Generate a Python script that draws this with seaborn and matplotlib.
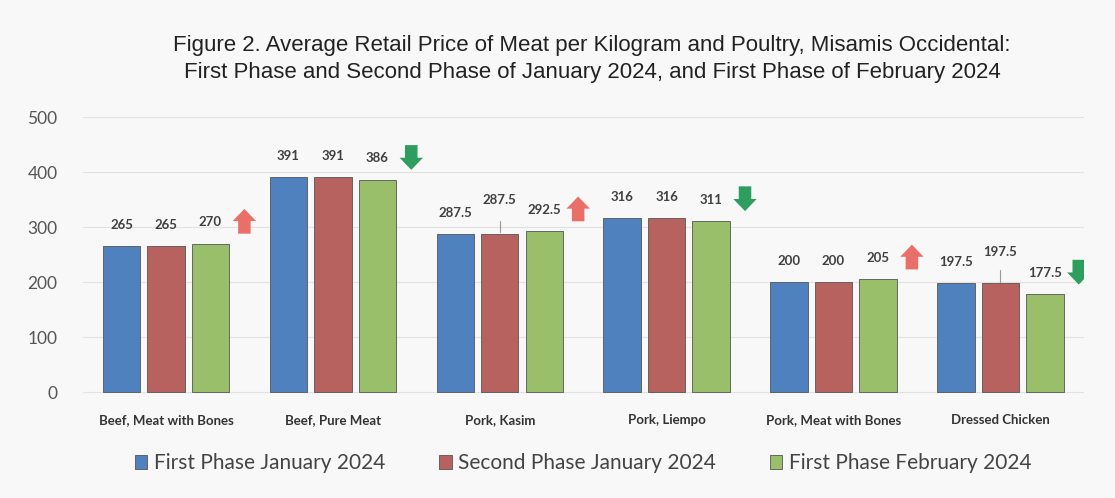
import numpy as np
import pandas as pd
import matplotlib
matplotlib.use('Agg')
import matplotlib.pyplot as plt
import seaborn as sns

# Data
categories = ["Beef, Meat with Bones", "Beef, Pure Meat", "Pork, Kasim",
              "Pork, Liempo", "Pork, Meat with Bones", "Dressed Chicken"]
phases = ["First Phase January 2024", "Second Phase January 2024", "First Phase February 2024"]
jan_first = [265, 391, 287.5, 316, 200, 197.5]
jan_second = [265, 391, 287.5, 316, 200, 197.5]
feb_first = [270, 386, 292.5, 311, 205, 177.5]

df = pd.DataFrame({
    "category": categories * 3,
    "phase": np.repeat(phases, len(categories)),
    "price": jan_first + jan_second + feb_first,
})

colors = ["#3d7fd0", "#c65450", "#9acd5c"]
up_color = "#ea6f68"
down_color = "#2e9e5e"

sns.set_theme(style="white")
plt.rcParams['font.family'] = ['Lato', 'DejaVu Sans']

fig = plt.figure(figsize=(11.15, 4.98), dpi=100)
fig.patch.set_facecolor('#f8f8f8')
ax = fig.add_axes([0.074, 0.185, 0.898, 0.58])
ax.set_facecolor('#f8f8f8')

sns.barplot(data=df, x="category", y="price", hue="phase", palette=colors,
            width=0.8, gap=0.16, ax=ax, edgecolor='#555555', linewidth=0.6,
            legend=True)

ax.set_ylim(-25, 500)
ax.set_yticks(range(0, 501, 100))
ax.yaxis.grid(True, color='#e2e2e2', linewidth=0.8)
ax.set_axisbelow(True)
for s in ax.spines.values():
    s.set_visible(False)
ax.set_xlabel("")
ax.set_ylabel("")
ax.tick_params(axis='y', labelsize=12.5, labelcolor='#555555', length=0, pad=18)
ax.tick_params(axis='x', labelsize=9.5, labelcolor='#333333', length=0, pad=6)
for lab in ax.get_xticklabels():
    lab.set_fontweight('bold')

# value labels (two lifted with a leader line, as in the source)
lifted = {(1, 2): 9, (1, 5): 7}
for h, cont in enumerate(ax.containers):
    for i, bar in enumerate(cont.patches):
        xc = bar.get_x() + bar.get_width() / 2
        val = bar.get_height()
        lift = lifted.get((h, i), 0)
        ax.annotate(f"{val:g}", (xc, val), xytext=(0, 11 + lift), textcoords='offset points',
                    ha='center', va='bottom', fontsize=9.5, fontweight='bold', color='#404040')
        if lift:
            ax.plot([xc, xc], [val + 3, val + 24], color='#999999', lw=0.8)

# change arrows next to the February bar
for i, (prev, cur) in enumerate(zip(jan_second, feb_first)):
    x = i + 0.47
    if cur > prev:
        ax.arrow(x, cur + 18, 0, 45, width=0.075, head_width=0.14, head_length=22,
                 length_includes_head=True, color=up_color, lw=0)
    elif cur < prev:
        ax.arrow(x, cur + 63, 0, -45, width=0.075, head_width=0.14, head_length=22,
                 length_includes_head=True, color=down_color, lw=0)

ax.set_xlim(-0.5, 5.5)

handles, labels = ax.get_legend_handles_labels()
ax.get_legend().remove()
fig.legend(handles, labels, loc='lower center', bbox_to_anchor=(0.523, 0.012), ncol=3,
           frameon=False, fontsize=15, handlelength=0.6, handleheight=0.6,
           handletextpad=0.3, columnspacing=2.6, labelcolor='#444444')

fig.suptitle("Figure 2. Average Retail Price of Meat per Kilogram and Poultry, Misamis Occidental:\n"
             "First Phase and Second Phase of January 2024, and First Phase of February 2024",
             x=0.531, y=0.93, fontsize=16, color='#222222', family='Liberation Sans',
             linespacing=1.4)

fig.savefig("out.png", dpi=100, facecolor=fig.get_facecolor())
